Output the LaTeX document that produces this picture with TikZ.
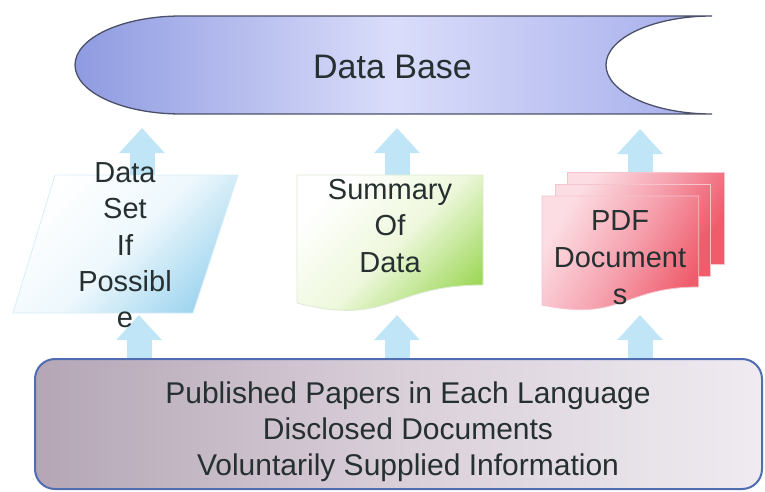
\documentclass[tikz,border=0pt]{standalone}
\usepackage{fontspec}
\setmainfont{Liberation Sans}
\usetikzlibrary{arrows.meta}
\definecolor{txt}{HTML}{263030}
\definecolor{arrowblue}{HTML}{C0E5F6}
\definecolor{dbedge}{HTML}{4A5068}
\definecolor{dbleft}{HTML}{8F9BE1}
\definecolor{dbmid}{HTML}{DADDFA}
\definecolor{dbright}{HTML}{A5ADEB}
\definecolor{setedge}{HTML}{D6EEF9}
\definecolor{setmid}{HTML}{EEF8FD}
\definecolor{setdark}{HTML}{A2D6EF}
\definecolor{sumedge}{HTML}{DCE9D4}
\definecolor{summid}{HTML}{EEF8DC}
\definecolor{sumdark}{HTML}{9ED85A}
\definecolor{pagetop}{HTML}{FCDDE3}
\definecolor{pagemid}{HTML}{F6A3B0}
\definecolor{pagedark}{HTML}{EF5C6C}
\definecolor{pageedge}{HTML}{F6C4CC}
\definecolor{srcedge}{HTML}{4F6DB0}
\definecolor{srcleft}{HTML}{B4A6B5}
\definecolor{srcmid}{HTML}{D9CFD9}
\definecolor{srcright}{HTML}{EFEBF1}
\begin{document}
\begin{tikzpicture}[x=1pt,y=-1pt,
  label text/.style={text=txt,inner sep=0pt,align=center},
  blockarrow/.style={draw=arrowblue,line width=25pt,
    -{Triangle[width=44pt,length=25pt]}},
  page/.style={draw=pageedge,line width=0.8pt,
    top color=pagetop,bottom color=pagedark,middle color=pagemid,
    shading angle=60}]
\useasboundingbox (0,0) rectangle (765,492);

% arrow end points
\coordinate (u1s) at (142,178); \coordinate (u1e) at (142,128);
\coordinate (u2s) at (397,178); \coordinate (u2e) at (397,128);
\coordinate (u3s) at (640,176); \coordinate (u3e) at (640,129);
\coordinate (l1s) at (139,361); \coordinate (l1e) at (139,315);
\coordinate (l2s) at (397,361); \coordinate (l2e) at (397,315);
\coordinate (l3s) at (640,361); \coordinate (l3e) at (640,315);

% arrows, drawn first so that the boxes cover their tails
\draw[blockarrow] (u1s) -- (u1e);
\draw[blockarrow] (u2s) -- (u2e);
\draw[blockarrow] (u3s) -- (u3e);
\draw[blockarrow] (l1s) -- (l1e);
\draw[blockarrow] (l2s) -- (l2e);
\draw[blockarrow] (l3s) -- (l3e);

% stored-data shape
\draw[draw=dbedge,line width=1.3pt,left color=dbleft,right color=dbright,
      middle color=dbmid]
  (181,16) arc[start angle=270,end angle=90,x radius=106,y radius=49]
  -- (712,114) arc[start angle=90,end angle=270,x radius=106,y radius=49]
  -- cycle;
\node[label text,anchor=base,font={\fontsize{34}{40}\selectfont}] (db) at (392.5,79) {Data Base};

% data set (parallelogram)
\draw[draw=setedge,line width=0.8pt,top color=white,bottom color=setdark,
      middle color=setmid,shading angle=45]
  (55,175) -- (238,175) -- (193,313) -- (13,313) -- cycle;
\node[label text,anchor=north,font={\fontsize{29}{36.3}\selectfont}] (dataset) at (125,162.5)
  {Data\\Set\\If\\Possibl\\e};

% summary (document shape)
\draw[draw=sumedge,line width=0.8pt,top color=white,bottom color=sumdark,
      middle color=summid,shading angle=45]
  (297,175) -- (483,175) -- (483,285)
  .. controls (390,285) and (390,327) .. (297,303) -- cycle;
\node[label text,anchor=north,font={\fontsize{29}{36.5}\selectfont}] (summary) at (390,179)
  {Summary\\Of\\Data};

% PDF documents (stacked pages)
\draw[page] (567,172) rectangle (724,264);
\draw[page] (555,184) rectangle (710.5,276);
\draw[page] (542,196) -- (698.7,196) -- (698.7,287)
  .. controls (622,287) and (622,322) .. (542,305) -- cycle;
\node[label text,anchor=north,font={\fontsize{29}{37}\selectfont}] (pdf) at (620,210)
  {PDF\\Document\\s};

% information sources
\draw[draw=srcedge,line width=2pt,rounded corners=20pt,left color=srcleft,
      right color=srcright,middle color=srcmid]
  (35,359) rectangle (762,489);
\node[label text,anchor=north,font={\fontsize{30}{36}\selectfont}] (sources) at (408,382)
  {Published Papers in Each Language\\Disclosed Documents\\Voluntarily Supplied Information};
\end{tikzpicture}
\end{document}
